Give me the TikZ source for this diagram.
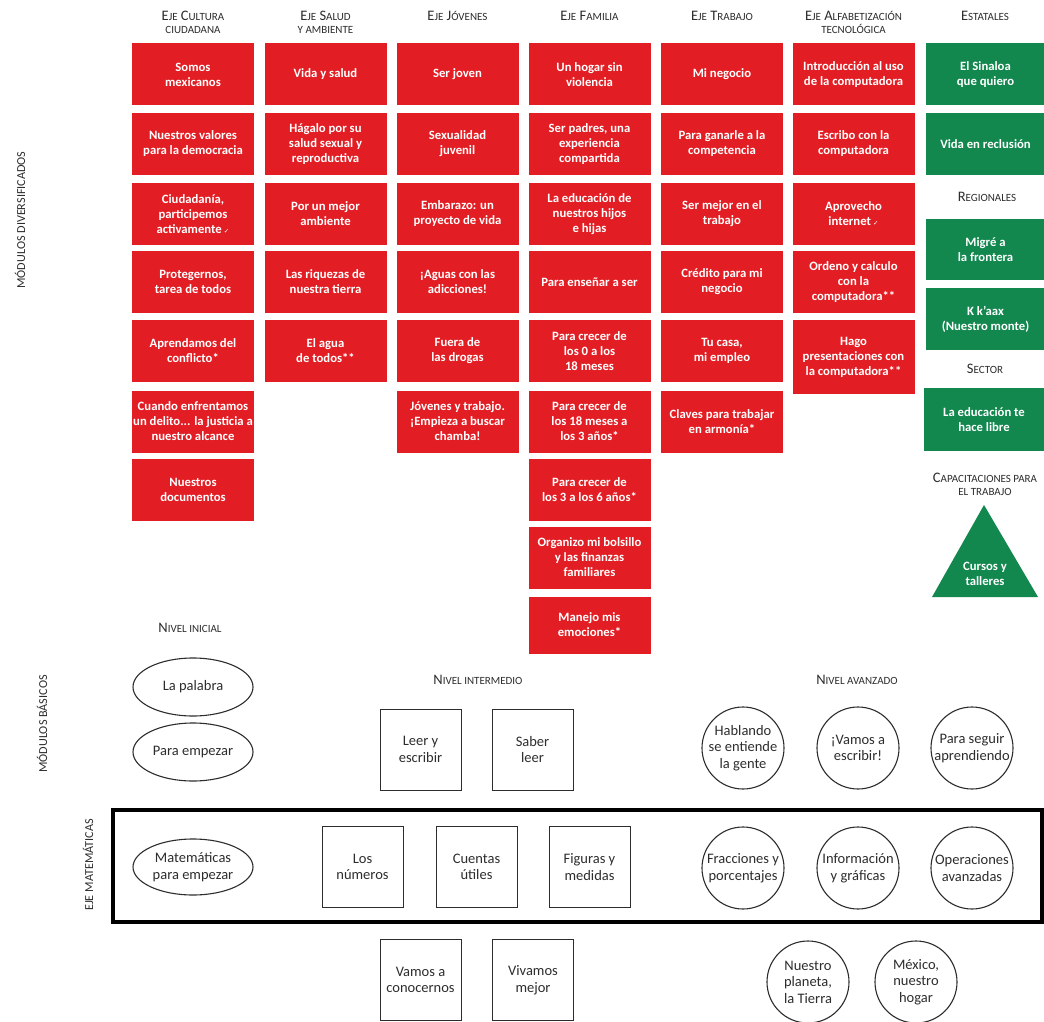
\documentclass[tikz,border=0pt]{standalone}
\usepackage{fontspec}
\setmainfont{Carlito}
\newfontfamily\symfont{DejaVu Sans}
\usetikzlibrary{shapes.geometric}
\definecolor{eRed}{RGB}{226,30,36}
\definecolor{eGreen}{RGB}{18,135,78}
\definecolor{ink}{RGB}{45,45,45}
\newcommand\chk{{\symfont\fontsize{6.5}{6.5}\selectfont ✓}}
\newcommand\sm[1]{{\fontsize{11}{13}\selectfont #1}}
\begin{document}
\begin{tikzpicture}[x=1pt,y=-1pt,
  redbox/.style={rectangle, fill=eRed, text=white, minimum width=122pt, minimum height=62pt, inner sep=0.5pt, align=center, font=\bfseries\fontsize{12.7}{15}\selectfont},
  greenbox/.style={rectangle, fill=eGreen, text=white, minimum width=119pt, minimum height=62pt, inner sep=0.5pt, align=center, font=\bfseries\fontsize{12.7}{15}\selectfont},
  hdr/.style={align=center, text=ink, inner sep=0pt, font=\fontsize{14.5}{13}\selectfont},
  side/.style={rotate=90, text=ink, inner sep=0pt, font=\fontsize{12.2}{14}\selectfont},
  sqbox/.style={rectangle, draw=ink, line width=0.9pt, minimum width=81pt, minimum height=81pt, inner sep=1pt, align=center, text=ink, font=\fontsize{14.5}{16.5}\selectfont},
  ell/.style={ellipse, draw=ink, line width=1.1pt, minimum width=120pt, minimum height=58pt, inner sep=0pt},
  circ/.style={circle, draw=ink, line width=1.1pt, minimum size=82pt, inner sep=0pt},
  ctext/.style={align=center, text=ink, inner sep=0pt, font=\fontsize{14.5}{16.5}\selectfont}
]
\useasboundingbox (0,0) rectangle (1044,1022);
\fill[white] (0,0) rectangle (1044,1022);

% headers
\node[hdr, anchor=base] (h1) at (193,34) {E\sm{JE} C\sm{ULTURA}\\\sm{CIUDADANA}};
\node[hdr, anchor=base] (h2) at (325.5,34) {E\sm{JE} S\sm{ALUD}\\\sm{Y AMBIENTE}};
\node[hdr, anchor=base] (h3) at (457.5,21) {E\sm{JE} J\sm{ÓVENES}};
\node[hdr, anchor=base] (h4) at (589.5,21) {E\sm{JE} F\sm{AMILIA}};
\node[hdr, anchor=base] (h5) at (722,21) {E\sm{JE} T\sm{RABAJO}};
\node[hdr, anchor=base] (h6) at (853.5,34) {E\sm{JE} A\sm{LFABETIZACIÓN}\\\sm{TECNOLÓGICA}};
\node[hdr, anchor=base] (h7) at (985,21) {E\sm{STATALES}};

% side labels
\node[side] (sd) at (20,220) {MÓDULOS DIVERSIFICADOS};
\node[side] (sb) at (42,724) {MÓDULOS BÁSICOS};
\node[side] (sm) at (88,865) {EJE MATEMÁTICAS};

% column 1
\node[redbox] (a1) at (193,74.5) {Somos\\mexicanos};
\node[redbox] (a2) at (193,144) {Nuestros valores\\para la democracia};
\node[redbox] (a3) at (193,214) {Ciudadanía,\\participemos\\activamente\,\chk};
\node[redbox] (a4) at (193,282) {Protegernos,\\tarea de todos};
\node[redbox] (a5) at (193,351) {Aprendamos del\\conflicto*};
\node[redbox] (a6) at (193,421.5) {Cuando enfrentamos\\un delito... la justicia a\\nuestro alcance};
\node[redbox] (a7) at (193,489.5) {Nuestros\\documentos};

% column 2
\node[redbox] (b1) at (325.5,74.5) {Vida y salud};
\node[redbox] (b2) at (325.5,144) {Hágalo por su\\salud sexual y\\reproductiva};
\node[redbox] (b3) at (325.5,214) {Por un mejor\\ambiente};
\node[redbox] (b4) at (325.5,282) {Las riquezas de\\nuestra tierra};
\node[redbox] (b5) at (325.5,351) {El agua\\de todos**};

% column 3
\node[redbox] (c1) at (457.5,74.5) {Ser joven};
\node[redbox] (c2) at (457.5,144) {Sexualidad\\juvenil};
\node[redbox] (c3) at (457.5,214) {Embarazo: un\\proyecto de vida};
\node[redbox] (c4) at (457.5,282) {¡Aguas con las\\adicciones!};
\node[redbox] (c5) at (457.5,351) {Fuera de\\las drogas};
\node[redbox] (c6) at (457.5,421.5) {Jóvenes y trabajo.\\¡Empieza a buscar\\chamba!};

% column 4
\node[redbox] (d1) at (589.5,74.5) {Un hogar sin\\violencia};
\node[redbox] (d2) at (589.5,144) {Ser padres, una\\experiencia\\compartida};
\node[redbox] (d3) at (589.5,214) {La educación de\\nuestros hijos\\e hijas};
\node[redbox] (d4) at (589.5,282) {Para enseñar a ser};
\node[redbox] (d5) at (589.5,351) {Para crecer de\\los 0 a los\\18 meses};
\node[redbox] (d6) at (589.5,421.5) {Para crecer de\\los 18 meses a\\los 3 años*};
\node[redbox] (d7) at (589.5,489.5) {Para crecer de\\los 3 a los 6 años*};
\node[redbox] (d8) at (589.5,557.5) {Organizo mi bolsillo\\y las finanzas\\familiares};
\node[redbox, minimum height=57pt] (d9) at (589.5,625) {Manejo mis\\emociones*};

% column 5
\node[redbox] (e1) at (722,74.5) {Mi negocio};
\node[redbox] (e2) at (722,144) {Para ganarle a la\\competencia};
\node[redbox] (e3) at (722,214) {Ser mejor en el\\trabajo};
\node[redbox] (e4) at (722,282) {Crédito para mi\\negocio};
\node[redbox] (e5) at (722,351) {Tu casa,\\mi empleo};
\node[redbox] (e6) at (722,421.5) {Claves para trabajar\\en armonía*};

% column 6
\node[redbox] (f1) at (853.5,74.5) {Introducción al uso\\de la computadora};
\node[redbox] (f2) at (853.5,144) {Escribo con la\\computadora};
\node[redbox] (f3) at (853.5,214) {Aprovecho\\internet\,\chk};
\node[redbox] (f4) at (853.5,282) {Ordeno y calculo\\con la\\computadora**};
\node[redbox, minimum height=74pt] (f5) at (853.5,357) {Hago\\presentaciones con\\la computadora**};

% green column
\node[greenbox] (g1) at (985.5,74.5) {El Sinaloa\\que quiero};
\node[greenbox] (g2) at (985.5,144) {Vida en reclusión};
\node[hdr] (lr) at (987,197) {R\sm{EGIONALES}};
\node[greenbox, minimum height=61pt] (g3) at (985.5,249.5) {Migré a\\la frontera};
\node[greenbox] (g4) at (985.5,319) {K k'aax\\(Nuestro monte)};
\node[hdr] (ls) at (985,369) {S\sm{ECTOR}};
\node[greenbox, minimum width=120pt, minimum height=63pt] (g5) at (984,419.5) {La educación te\\hace libre};
\node[hdr, anchor=base] (lc) at (985,495) {C\sm{APACITACIONES PARA}\\\sm{EL TRABAJO}};
\coordinate (t1) at (932,597);
\coordinate (t2) at (984,505);
\coordinate (t3) at (1038,597);
\fill[eGreen] (t1) -- (t2) -- (t3) -- cycle;
\node[align=center, text=white, inner sep=0pt, font=\bfseries\fontsize{12.7}{15}\selectfont] (g6) at (985,574) {Cursos y\\talleres};

% basic modules
\node[hdr] (ni) at (190,628) {N\sm{IVEL INICIAL}};
\node[ell] (o1) at (193,687) {};
\node[ctext] (o1t) at (o1) {La palabra};
\node[ell] (o2) at (193,752) {};
\node[ctext] (o2t) at (o2) {Para empezar};
\node[hdr] (nm) at (478,680) {N\sm{IVEL INTERMEDIO}};
\node[sqbox] (s1) at (420.5,749.5) {Leer y\\escribir};
\node[sqbox] (s2) at (532.5,749.5) {Saber\\leer};
\node[hdr] (na) at (857,680) {N\sm{IVEL AVANZADO}};
\node[circ] (k1) at (743,748) {};
\node[ctext] (k1t) at (k1) {Hablando\\se entiende\\la gente};
\node[circ] (k2) at (858,748) {};
\node[ctext] (k2t) at (k2) {¡Vamos a\\escribir!};
\node[circ] (k3) at (972,748) {};
\node[ctext] (k3t) at (k3) {Para seguir\\aprendiendo};

% math axis
\draw[line width=4pt] (113,810) rectangle (1042,922);
\node[ell, minimum height=56pt] (m1) at (193,867) {};
\node[ctext] (m1t) at (m1) {Matemáticas\\para empezar};
\node[sqbox] (m2) at (362.5,867) {Los\\números};
\node[sqbox] (m3) at (476.5,867) {Cuentas\\útiles};
\node[sqbox] (m4) at (589.5,867) {Figuras y\\medidas};
\node[circ] (m5) at (743,868) {};
\node[ctext] (m5t) at (m5) {Fracciones y\\porcentajes};
\node[circ] (m6) at (858,868) {};
\node[ctext] (m6t) at (m6) {Información\\y gráficas};
\node[circ] (m7) at (972,868) {};
\node[ctext] (m7t) at (m7) {Operaciones\\avanzadas};

% bottom row
\node[sqbox] (v1) at (420.5,980) {Vamos a\\conocernos};
\node[sqbox] (v2) at (533,980) {Vivamos\\mejor};
\node[circ] (p1) at (808,982) {};
\node[ctext] (p1t) at (p1) {Nuestro\\planeta,\\la Tierra};
\node[circ] (p2) at (916,982) {};
\node[ctext] (p2t) at (p2) {México,\\nuestro\\hogar};
\end{tikzpicture}
\end{document}
